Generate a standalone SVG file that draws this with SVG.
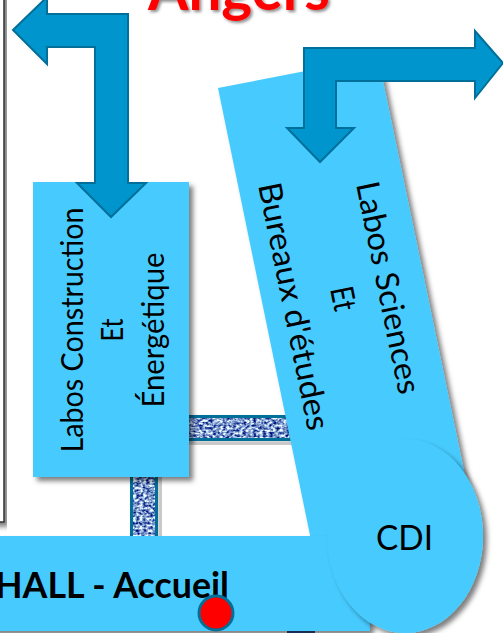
<svg xmlns="http://www.w3.org/2000/svg" width="503" height="633" viewBox="0 0 503 633">
<style>
text{font-family:Lato,"Liberation Sans",sans-serif;fill:#000}
.room{fill:#47cbff;filter:url(#sh)}
.arrow{fill:#0095cd;stroke:#006f99;stroke-width:2}
.lab{font-size:30px;text-anchor:middle}
.sci{font-size:32px}
.link{fill:none;stroke:#006f99;stroke-width:3;filter:url(#sh)}
.tex{filter:url(#noise)}
</style>
<defs>
<filter id="sh" x="-20%" y="-20%" width="140%" height="140%"><feDropShadow dx="4" dy="4" stdDeviation="2.5" flood-color="#000" flood-opacity=".5"/></filter>
<filter id="ts" x="-20%" y="-20%" width="140%" height="140%"><feDropShadow dx="2" dy="2" stdDeviation="1.5" flood-color="#000" flood-opacity=".45"/></filter>
<filter id="noise" x="0" y="0" width="100%" height="100%" color-interpolation-filters="sRGB">
<feTurbulence type="fractalNoise" baseFrequency=".3 .4" numOctaves="2" seed="4"/>
<feColorMatrix type="matrix" values="0 2.1 0 0 -0.55  0 2 0 0 -0.4  0 1.2 0 0 0.2  0 0 0 0 1"/>
<feGaussianBlur stdDeviation=".5"/>
<feComposite in2="SourceGraphic" operator="in"/>
</filter>
</defs>
<rect width="503" height="633" fill="#fff"/>
<g id="frame"><rect x="-10" y="-10" width="14" height="532" fill="#fff" stroke="#333" stroke-width="1.5" filter="url(#sh)"/></g>
<g id="title"><text x="148" y="10" font-size="60" font-weight="700" textLength="182" lengthAdjust="spacingAndGlyphs" style="fill:#f00" filter="url(#ts)">Angers</text></g>
<g id="connectors">
<rect class="link" x="187" y="416.500" width="107" height="23"/>
<rect class="tex" x="187" y="418" width="107" height="20"/>
<rect class="link" x="131.500" y="470" width="25" height="70"/>
<rect class="tex" x="133" y="470" width="22" height="70"/>
<rect x="287" y="628" width="28" height="8" fill="#2f4f91"/>
</g>
<g id="labos-construction">
<rect class="room" x="33" y="182" width="156" height="295"/>
<text class="lab" textLength="245" lengthAdjust="spacingAndGlyphs" transform="translate(83,330) rotate(-90)">Labos Construction</text>
<text class="lab" textLength="23" lengthAdjust="spacingAndGlyphs" transform="translate(123,330) rotate(-90)">Et</text>
<text class="lab" textLength="155" lengthAdjust="spacingAndGlyphs" transform="translate(164,330) rotate(-90)">Énergétique</text>
</g>
<g id="labos-sciences">
<polygon class="room" points="218,88 378,57 470,500 311,540"/>
<text class="sci" textLength="216" lengthAdjust="spacingAndGlyphs" transform="translate(356,184) rotate(78.500)">Labos Sciences</text>
<text class="sci" textLength="24" lengthAdjust="spacingAndGlyphs" transform="translate(330,289) rotate(78.500)">Et</text>
<text class="sci" textLength="252" lengthAdjust="spacingAndGlyphs" transform="translate(258,185) rotate(78.500)">Bureaux d'études</text>
</g>
<g id="hall">
<rect class="room" x="-10" y="536" width="380" height="95"/>
<text x="-5" y="598" font-size="36" font-weight="700" textLength="234" lengthAdjust="spacingAndGlyphs">HALL - Accueil</text>
</g>
<g id="cdi">
<ellipse class="room" cx="405" cy="536" rx="78" ry="97"/>
<text x="376" y="550" font-size="35" textLength="57" lengthAdjust="spacingAndGlyphs">CDI</text>
</g>
<g id="arrow-left"><polygon class="arrow" points="13,30 47,-3 47,14 128,14 128,183 146,183 111,217 77,183 95,183 95,47 47,47 47,64"/></g>
<g id="arrow-right"><polygon class="arrow" points="503,63 475,31 475,48 304,48 304,128 287,128 320,162 354,128 336,128 336,81 475,81 475,98"/></g>
<g id="marker"><circle cx="216" cy="613" r="17" fill="#f00" stroke="#006f99" stroke-width="3"/></g>
</svg>
